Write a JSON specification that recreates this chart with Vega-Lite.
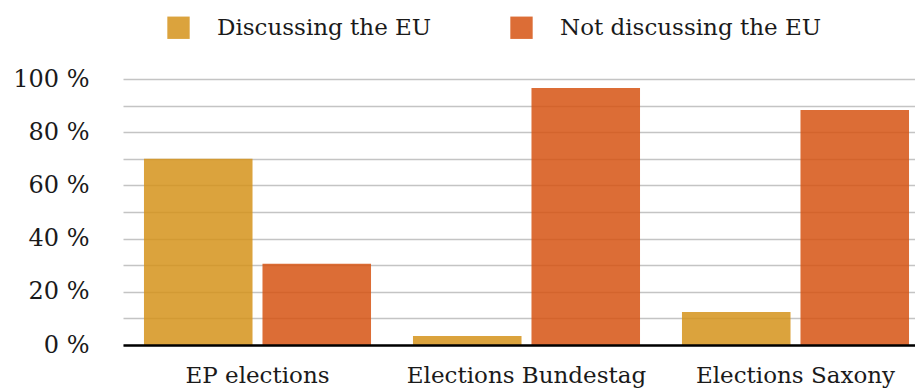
{
  "$schema": "https://vega.github.io/schema/vega-lite/v6.json",
  "autosize": {"type": "none"},
  "width": 792,
  "height": 266,
  "padding": {"left": 123, "top": 79, "right": 0, "bottom": 47},
  "background": "white",
  "config": {
    "view": {"stroke": null},
    "font": "DejaVu Serif"
  },
  "data": {
    "values": [
      {"election": "EP elections", "series": "Discussing the EU", "share": 70.0},
      {"election": "EP elections", "series": "Not discussing the EU", "share": 30.5},
      {"election": "Elections Bundestag", "series": "Discussing the EU", "share": 3.4},
      {"election": "Elections Bundestag", "series": "Not discussing the EU", "share": 96.6},
      {"election": "Elections Saxony", "series": "Discussing the EU", "share": 12.4},
      {"election": "Elections Saxony", "series": "Not discussing the EU", "share": 88.3}
    ]
  },
  "mark": {"type": "bar", "opacity": 0.85},
  "encoding": {
    "x": {
      "field": "election",
      "type": "nominal",
      "sort": ["EP elections", "Elections Bundestag", "Elections Saxony"],
      "scale": {"range": [0, 807], "paddingInner": 0.156, "paddingOuter": 0.078},
      "axis": {
        "title": null,
        "labelAngle": 0,
        "labelFont": "DejaVu Serif",
        "labelFontSize": 23,
        "labelColor": "#1a1a1a",
        "labelPadding": 19,
        "labelLimit": 400,
        "ticks": false,
        "domainColor": "#000000",
        "domainWidth": 2.5,
        "zindex": 1
      }
    },
    "xOffset": {
      "field": "series",
      "type": "nominal",
      "sort": ["Discussing the EU", "Not discussing the EU"],
      "scale": {"paddingInner": 0.084, "paddingOuter": 0}
    },
    "y": {
      "field": "share",
      "type": "quantitative",
      "scale": {"domain": [0, 100], "nice": false},
      "axis": {
        "title": null,
        "values": [0, 10, 20, 30, 40, 50, 60, 70, 80, 90, 100],
        "labelExpr": "datum.value % 20 == 0 ? datum.value + ' %' : ''",
        "labelFont": "DejaVu Serif",
        "labelFontSize": 24,
        "labelColor": "#1a1a1a",
        "labelPadding": 34,
        "ticks": false,
        "domain": false,
        "gridColor": "#c4c4c4",
        "gridWidth": 1.5
      }
    },
    "color": {
      "field": "series",
      "type": "nominal",
      "sort": ["Discussing the EU", "Not discussing the EU"],
      "scale": {"range": ["#d5931b", "#d65313"]},
      "legend": {
        "title": null,
        "orient": "none",
        "direction": "horizontal",
        "legendX": 44,
        "legendY": -63,
        "symbolType": "square",
        "symbolSize": 500,
        "symbolStrokeWidth": 0,
        "symbolOpacity": 0.85,
        "labelFont": "DejaVu Serif",
        "labelFontSize": 23,
        "labelColor": "#1a1a1a",
        "labelOffset": 27,
        "columnPadding": 78,
        "labelLimit": 400
      }
    }
  }
}
